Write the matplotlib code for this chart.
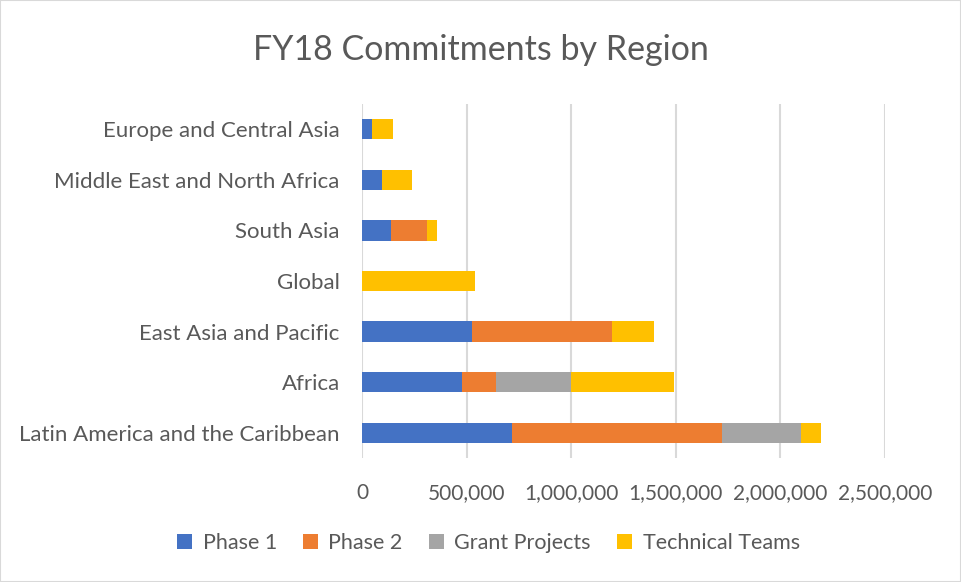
import matplotlib
matplotlib.use("Agg")
import matplotlib.pyplot as plt
import numpy as np

plt.rcParams['font.family'] = ['Lato', 'DejaVu Sans']

regions = ["Latin America and the Caribbean", "Africa", "East Asia and Pacific",
           "Global", "South Asia", "Middle East and North Africa", "Europe and Central Asia"]
phase1 = [715000, 477000, 526000, 0, 140000, 97000, 47000]
phase2 = [1004000, 164000, 668000, 0, 171000, 0, 0]
grant = [380000, 357000, 0, 0, 0, 0, 0]
technical = [95000, 494000, 201000, 541000, 46000, 144000, 99000]

series = [("Phase 1", phase1, "#4472C4"),
          ("Phase 2", phase2, "#ED7D31"),
          ("Grant Projects", grant, "#A5A5A5"),
          ("Technical Teams", technical, "#FFC000")]

text_col = "#595959"

fig = plt.figure(figsize=(9.61, 5.82), dpi=100)
ax = fig.add_axes([0.3767, 0.2131, 0.5442, 0.6082])

y = np.arange(len(regions))
left = np.zeros(len(regions))
for name, vals, col in series:
    ax.barh(y, vals, left=left, height=0.4, color=col, label=name, zorder=3)
    left += np.array(vals)

ax.set_xlim(0, 2500000)
ax.set_ylim(-0.5, len(regions) - 0.5)
ax.set_xticks(np.arange(0, 2500001, 500000))
ax.xaxis.set_major_formatter(matplotlib.ticker.FuncFormatter(lambda v, p: f"{int(v):,}"))
ax.set_yticks(y)
ax.set_yticklabels(regions)
ax.grid(axis="x", color="#D9D9D9", linewidth=1.5, zorder=0)
for s in ax.spines.values():
    s.set_visible(False)
ax.tick_params(axis="both", length=0, colors=text_col)
ax.tick_params(axis="y", pad=16, labelsize=16)
ax.tick_params(axis="x", pad=18, labelsize=15)

fig.text(0.5, 0.914, "FY18 Commitments by Region", ha="center", va="center",
         fontsize=24.5, color=text_col)

fig.legend(loc="center", bbox_to_anchor=(0.508, 0.067), ncol=4, frameon=False,
           fontsize=15.5, labelcolor=text_col, handlelength=0.7, handleheight=0.7,
           handletextpad=0.5, columnspacing=1.2)

fig.patches.append(matplotlib.patches.Rectangle((0, 0), 1, 1, transform=fig.transFigure,
                   fill=False, edgecolor="#D9D9D9", linewidth=1.5))

fig.savefig("out.png", dpi=100)
